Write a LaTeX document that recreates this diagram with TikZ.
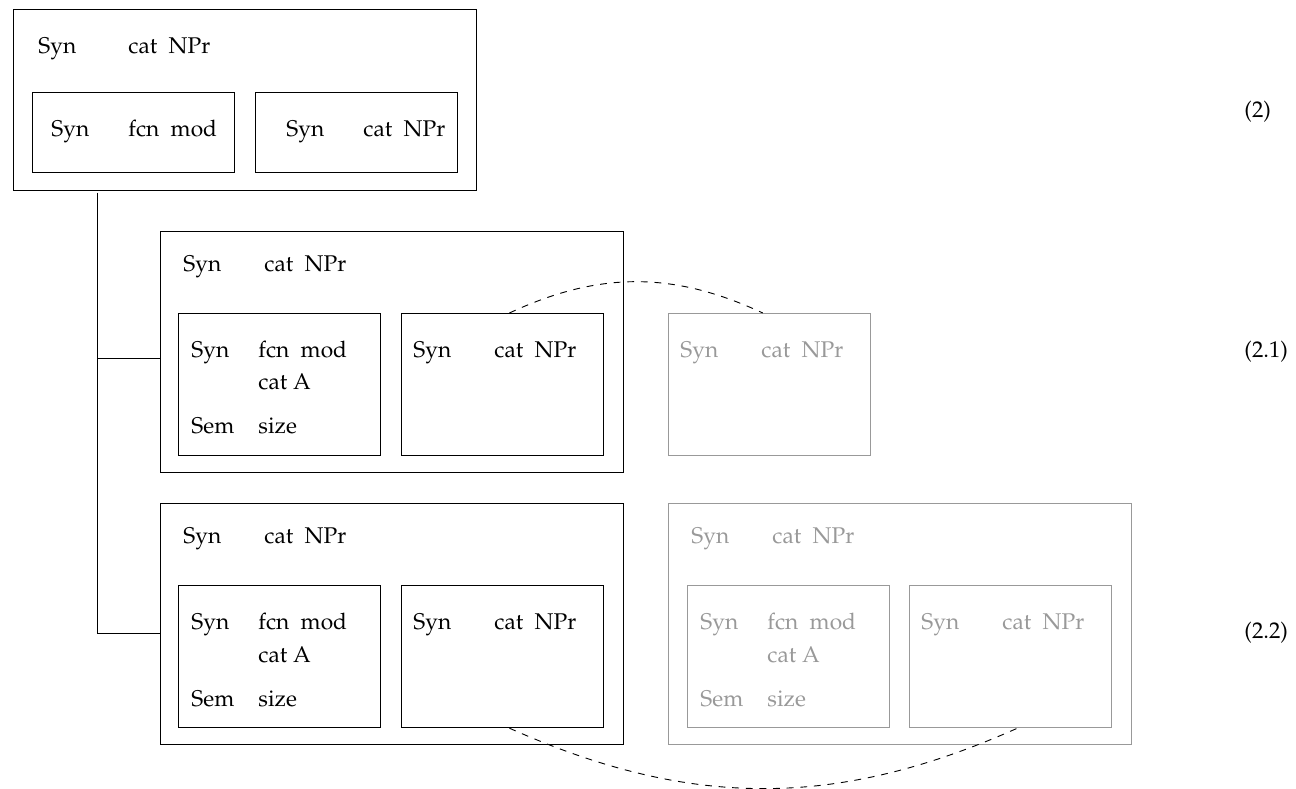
\documentclass[tikz,border=0pt]{standalone}
\usepackage[T1]{fontenc}
\usepackage{mathpazo}
\definecolor{ghost}{gray}{0.6}
\tikzset{
  avm/.style={draw, anchor=north west, inner sep=0pt, line width=.5pt,
    minimum width=203.7pt, minimum height=106pt},
  subavm/.style={avm, minimum width=88.9pt, minimum height=62.5pt},
  feat/.style={anchor=base west, inner sep=0pt},
  eqnum/.style={anchor=west, inner sep=0pt}
}
\begin{document}
\begin{tikzpicture}[x=.44pt,y=-.44pt]
%	\draw[step=50,gray!30] (0,0) grid (1296,789);
\useasboundingbox (0,0) rectangle (1296,789);

% (2)
\node[avm,minimum height=79.6pt] (A) at (13,9) {};
\node[subavm,minimum height=35.2pt] (A1) at (32,92) {};
\node[subavm,minimum height=35.2pt] (A2) at (255,92) {};
\node[feat] (A-syn) at (38,54) {Syn};
\node[feat] (A-cat) at (128,54) {cat\enspace NPr};
\node[feat] (A1-syn) at (51,137) {Syn};
\node[feat] (A1-fcn) at (128,137) {fcn\enspace mod};
\node[feat] (A2-syn) at (286,137) {Syn};
\node[feat] (A2-cat) at (363,137) {cat\enspace NPr};
\node[eqnum] (lab2) at (1244,112) {(2)};

% (2.1) and (2.2)
\node[avm] (B) at (160,231) {};
\node[subavm] (B1) at (178,313) {};
\node[subavm] (B2) at (401,313) {};
\node[subavm,ghost] (B3) at (668,313) {};
\node[avm] (C) at (160,503) {};
\node[subavm] (C1) at (178,585) {};
\node[subavm] (C2) at (401,585) {};
\node[avm,ghost] (D) at (668,503) {};
\node[subavm,ghost] (D1) at (687,585) {};
\node[subavm,ghost] (D2) at (909,585) {};
\node[eqnum] (lab21) at (1244,352) {(2.1)};
\node[eqnum] (lab22) at (1244,633) {(2.2)};

\foreach \m/\col in {B/black,C/black,D/ghost}{
  \node[feat,\col] (\m-syn) at ([shift={(23,41)}]\m.north west) {Syn};
  \node[feat,\col] (\m-cat) at ([shift={(104,41)}]\m.north west) {cat\enspace NPr};
}
\foreach \m/\col in {B1/black,C1/black,D1/ghost}{
  \node[feat,\col] (\m-syn) at ([shift={(13,45)}]\m.north west) {Syn};
  \node[feat,\col] (\m-fcn) at ([shift={(80,45)}]\m.north west) {fcn\enspace mod};
  \node[feat,\col] (\m-cat) at ([shift={(80,77)}]\m.north west) {cat A};
  \node[feat,\col] (\m-sem) at ([shift={(13,121)}]\m.north west) {Sem};
  \node[feat,\col] (\m-size) at ([shift={(80,121)}]\m.north west) {size};
}
\foreach \m/\col in {B2/black,C2/black,B3/ghost,D2/ghost}{
  \node[feat,\col] (\m-syn) at ([shift={(12,45)}]\m.north west) {Syn};
  \node[feat,\col] (\m-cat) at ([shift={(93,45)}]\m.north west) {cat\enspace NPr};
}

% tree lines
\coordinate (fork) at (97,193);
\draw (fork) |- ([yshift=-3pt]B.west);
\draw (fork) |- ([yshift=-4pt]C.west);

% dashed links
\draw[dashed] ([xshift=3pt]B2.north) to[bend left=25] ([xshift=-3pt]B3.north);
\draw[dashed] ([xshift=3pt]C2.south) to[bend right=24] ([xshift=3pt]D2.south);
\end{tikzpicture}
\end{document}
